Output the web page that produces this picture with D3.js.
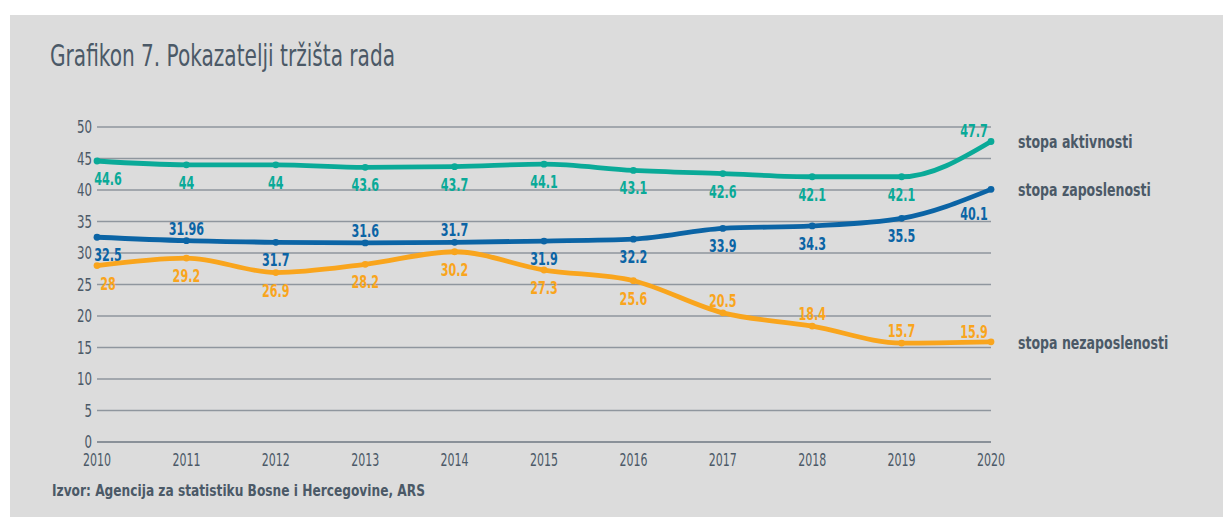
<!DOCTYPE html>
<html>
<head>
<meta charset="utf-8">
<script src="https://cdn.jsdelivr.net/npm/d3@7"></script>
<style>
  body { margin: 0; background: #fff; }
  svg { display: block; }
  text { font-family: "DejaVu Sans Condensed", "DejaVu Sans", sans-serif; }
</style>
</head>
<body>
<svg id="svg" width="1223" height="518"></svg>
<script>
var years = [2010, 2011, 2012, 2013, 2014, 2015, 2016, 2017, 2018, 2019, 2020];
var aktivnosti = [44.6, 44, 44, 43.6, 43.7, 44.1, 43.1, 42.6, 42.1, 42.1, 47.7];
var zaposlenosti = [32.5, 31.96, 31.7, 31.6, 31.7, 31.9, 32.2, 33.9, 34.3, 35.5, 40.1];
var nezaposlenosti = [28, 29.2, 26.9, 28.2, 30.2, 27.3, 25.6, 20.5, 18.4, 15.7, 15.9];
var yTicks = [0, 5, 10, 15, 20, 25, 30, 35, 40, 45, 50];

// label placement: 1 = below the point, -1 = above
var aktPos = [1, 1, 1, 1, 1, 1, 1, 1, 1, 1, -1];
var zapPos = [1, -1, 1, -1, -1, 1, 1, 1, 1, 1, 1];
var nezPos = [1, 1, 1, 1, 1, 1, 1, -1, -1, -1, -1];

var series = [
  { name: 'stopa aktivnosti', values: aktivnosti, pos: aktPos, color: '#0aaa98' },
  { name: 'stopa zaposlenosti', values: zaposlenosti, pos: zapPos, color: '#0b64a5' },
  { name: 'stopa nezaposlenosti', values: nezaposlenosti, pos: nezPos, color: '#f9a51d' }
];

var svg = d3.select('#svg');
var margin = { top: 127, left: 97, right: 231, bottom: 76 };
var width = 1223, height = 518;
var textColor = '#4b5967';

// squeeze text horizontally to imitate the condensed face of the original
function squeeze(sel, factor) {
  sel.each(function() {
    var w = this.getComputedTextLength();
    d3.select(this)
      .attr('textLength', w * factor)
      .attr('lengthAdjust', 'spacingAndGlyphs');
  });
}

svg.append('rect')
  .attr('x', 10).attr('y', 15)
  .attr('width', width - 10).attr('height', 502)
  .attr('fill', '#dcdcdc');

svg.append('text')
  .attr('x', 50).attr('y', 66)
  .attr('fill', textColor)
  .style('font-size', '30px')
  .attr('textLength', 345)
  .attr('lengthAdjust', 'spacingAndGlyphs')
  .text('Grafikon 7. Pokazatelji tržišta rada');

var x = d3.scaleLinear()
  .domain([2010, 2020])
  .range([margin.left, width - margin.right - 1]);
var y = d3.scaleLinear()
  .domain([0, 50])
  .range([height - margin.bottom, margin.top]);

// grid lines
svg.append('g')
  .selectAll('line')
  .data(yTicks)
  .enter()
  .append('line')
  .attr('x1', x(2010)).attr('x2', x(2020))
  .attr('y1', function(d) { return y(d); })
  .attr('y2', function(d) { return y(d); })
  .attr('stroke', function(d) { return d === 0 ? '#6f7883' : '#8f969e'; })
  .attr('stroke-width', 1.3);

svg.append('g')
  .selectAll('text')
  .data(yTicks)
  .enter()
  .append('text')
  .attr('x', 92)
  .attr('y', function(d) { return y(d) + 6; })
  .attr('text-anchor', 'end')
  .attr('fill', textColor)
  .style('font-size', '17px')
  .text(function(d) { return d; })
  .call(squeeze, 0.77);

svg.append('g')
  .selectAll('text')
  .data(years)
  .enter()
  .append('text')
  .attr('x', function(d) { return x(d); })
  .attr('y', 466)
  .attr('text-anchor', 'middle')
  .attr('fill', textColor)
  .style('font-size', '17px')
  .text(function(d) { return d; })
  .call(squeeze, 0.72);

var line = d3.line()
  .x(function(d, i) { return x(years[i]); })
  .y(function(d) { return y(d); })
  .curve(d3.curveMonotoneX);

function labelX(i) {
  if (i === 0) return x(years[i]) + 11;
  if (i === years.length - 1) return x(years[i]) - 17;
  return x(years[i]);
}

function labelDy(pos, i) {
  var last = i === years.length - 1;
  if (pos > 0) return last ? 31 : 24;
  return last ? -4 : -6;
}

series.forEach(function(s) {
  var g = svg.append('g');
  g.append('path')
    .attr('d', line(s.values))
    .attr('fill', 'none')
    .attr('stroke', s.color)
    .attr('stroke-width', 4.8)
    .attr('stroke-linecap', 'round');

  g.selectAll('circle')
    .data(s.values)
    .enter()
    .append('circle')
    .attr('cx', function(d, i) { return x(years[i]); })
    .attr('cy', function(d) { return y(d); })
    .attr('r', 3.4)
    .attr('fill', s.color);

  g.selectAll('text.lbl')
    .data(s.values)
    .enter()
    .append('text')
    .attr('class', 'lbl')
    .attr('x', function(d, i) { return labelX(i); })
    .attr('y', function(d, i) { return y(d) + labelDy(s.pos[i], i); })
    .attr('text-anchor', 'middle')
    .attr('fill', s.color)
    .style('font-size', '17px')
    .style('font-weight', 'bold')
    .text(function(d) { return d; })
    .call(squeeze, 0.73);

  svg.append('text')
    .attr('x', 1018)
    .attr('y', y(s.values[s.values.length - 1]) + 7)
    .attr('fill', textColor)
    .style('font-size', '17px')
    .style('font-weight', 'bold')
    .text(s.name)
    .call(squeeze, 0.82);
});

svg.append('text')
  .attr('x', 52).attr('y', 496)
  .attr('fill', textColor)
  .style('font-size', '16px')
  .style('font-weight', 'bold')
  .attr('textLength', 373)
  .attr('lengthAdjust', 'spacingAndGlyphs')
  .text('Izvor: Agencija za statistiku Bosne i Hercegovine, ARS');
</script>
</body>
</html>
